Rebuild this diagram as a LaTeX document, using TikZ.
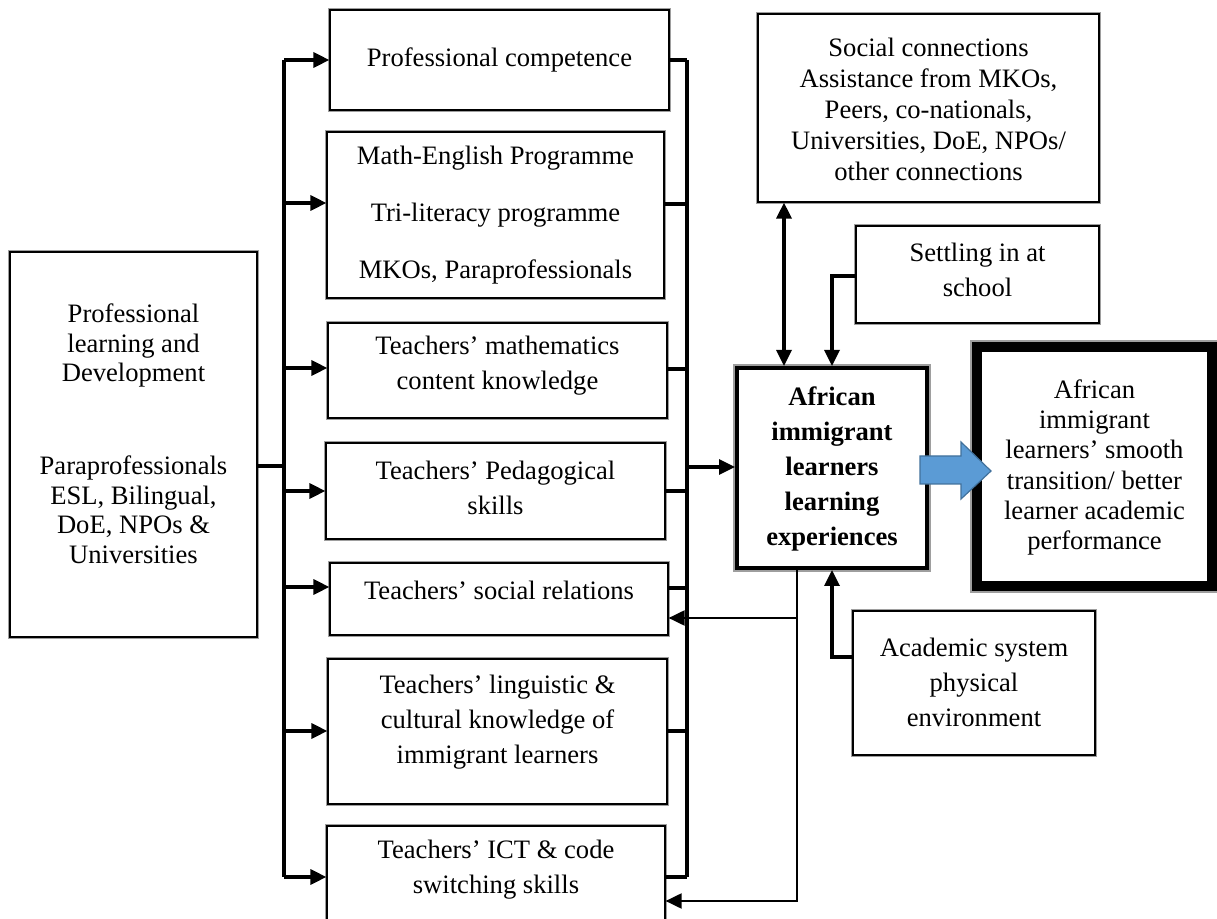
\documentclass[tikz,border=0pt]{standalone}
\usepackage{fontspec}
\setmainfont{Liberation Serif}
\usetikzlibrary{arrows.meta,fit,calc}
\definecolor{arrowblue}{HTML}{5B9BD5}
\definecolor{arrowedge}{HTML}{41719C}
\begin{document}
\begin{tikzpicture}[x=0.5pt,y=-0.5pt,
  bx/.style={draw=black, line width=0.6pt, preaction={draw=black!38, line width=2.2pt}, fill=white, inner sep=0pt},
  bxc/.style={draw=black, line width=2pt, preaction={draw=black!38, line width=3.8pt}, fill=white, inner sep=0pt},
  bxo/.style={draw=black, line width=5pt, preaction={draw=black!38, line width=6.8pt}, fill=white, inner sep=0pt},
  tx/.style={align=center, inner sep=0pt, font=\fontsize{13.3pt}{17.5pt}\selectfont},
  conn/.style={draw=black, line width=1.65pt},
  fbconn/.style={draw=black, line width=1pt},
  toarrow/.style={-{Triangle[length=8pt,width=7.5pt]}},
  botharrow/.style={{Triangle[length=8pt,width=7.5pt]}-{Triangle[length=8pt,width=7.5pt]}}]
\useasboundingbox (0,0) rectangle (1217,919);

% ---- boxes ----
\node[bx, fit={(10,252) (257,637)}] (L) {};
\node[bx, fit={(330,10) (669,110)}] (PC) {};
\node[bx, fit={(327,132) (664,298)}] (ME) {};
\node[bx, fit={(328,323) (667,418)}] (MC) {};
\node[bx, fit={(326,443) (665,539)}] (PS) {};
\node[bx, fit={(330,563) (668,635)}] (SR) {};
\node[bx, fit={(328,659) (667,804)}] (LC) {};
\node[bx, fit={(327,826) (665,940)}] (IC) {};
\node[bx, fit={(758,14) (1099,202)}] (S) {};
\node[bx, fit={(856,226) (1099,323)}] (T) {};
\node[bx, fit={(853,611) (1095,755)}] (A) {};
\node[bxc, fit={(737,368) (927,568)}] (C) {};
\node[bxo, fit={(977,347) (1212,586)}] (O) {};

% ---- texts ----
\node[tx, font=\fontsize{13.3pt}{14.75pt}\selectfont] (Lt) at (133.5,434)
  {Professional\\learning and\\Development\\[31.75pt]Paraprofessionals\\ESL, Bilingual,\\DoE, NPOs \&\\Universities};
\node[tx] (PCt) at (499.5,60) {Professional competence};
\node[tx, font=\fontsize{13.3pt}{28.5pt}\selectfont] (MEt) at (495.5,215)
  {Math-English Programme\\Tri-literacy programme\\MKOs, Paraprofessionals};
\node[tx] (MCt) at (497.5,366) {Teachers’ mathematics\\content knowledge};
\node[tx] (PSt) at (495.5,488) {Teachers’ Pedagogical\\skills};
\node[tx] (SRt) at (499,590) {Teachers’ social relations};
\node[tx] (LCt) at (497.5,722) {Teachers’ linguistic \&\\cultural knowledge of\\immigrant learners};
\node[tx] (ICt) at (496,870) {Teachers’ ICT \& code\\switching skills};
\node[tx, font=\fontsize{13.3pt}{15.5pt}\selectfont] (St) at (928.5,109)
  {Social connections\\Assistance from MKOs,\\Peers, co-nationals,\\Universities, DoE, NPOs/\\other connections};
\node[tx] (Tt) at (977.5,270) {Settling in at\\school};
\node[tx] (At) at (974,682) {Academic system\\physical\\environment};
\node[tx, font=\fontsize{13.3pt}{17.6pt}\selectfont\bfseries] (Ct) at (832,469)
  {African\\immigrant\\learners\\learning\\experiences};
\node[tx, font=\fontsize{13.3pt}{15.1pt}\selectfont] (Ot) at (1094.5,467.5)
  {African\\immigrant\\learners’ smooth\\transition/ better\\learner academic\\performance};

% ---- junction coordinates ----
\coordinate (l1) at (284,60);  \coordinate (r1) at (687,60);
\coordinate (l2) at (284,203); \coordinate (r2) at (687,204);
\coordinate (l3) at (284,368); \coordinate (r3) at (687,369);
\coordinate (l4) at (284,491); \coordinate (r4) at (687,491);
\coordinate (l5) at (284,587); \coordinate (r5) at (687,588);
\coordinate (l6) at (284,731); \coordinate (r6) at (687,731);
\coordinate (l7) at (284,877); \coordinate (r7) at (687,877);
\coordinate (lj) at (284,466); \coordinate (rj) at (687,467);
\coordinate (sx) at (784,300);
\coordinate (st) at (832,276);
\coordinate (ac) at (832,657);
\coordinate (fb1) at (797,618);
\coordinate (fb2) at (797,901);

% ---- trunks ----
\draw[conn] (l1) -- (l7);
\draw[conn] (r1) -- (r7);
\draw[conn] (L.east |- lj) -- (lj);
\draw[conn, toarrow] (l1) -- (PC.west |- l1);
\draw[conn, toarrow] (l2) -- (ME.west |- l2);
\draw[conn, toarrow] (l3) -- (MC.west |- l3);
\draw[conn, toarrow] (l4) -- (PS.west |- l4);
\draw[conn, toarrow] (l5) -- (SR.west |- l5);
\draw[conn, toarrow] (l6) -- (LC.west |- l6);
\draw[conn, toarrow] (l7) -- (IC.west |- l7);
\draw[conn] (PC.east |- r1) -- (r1);
\draw[conn] (ME.east |- r2) -- (r2);
\draw[conn] (MC.east |- r3) -- (r3);
\draw[conn] (PS.east |- r4) -- (r4);
\draw[conn] (SR.east |- r5) -- (r5);
\draw[conn] (LC.east |- r6) -- (r6);
\draw[conn] (IC.east |- r7) -- (r7);
\draw[conn, toarrow] (rj) -- (C.west |- rj);

% ---- right side connectors ----
\draw[conn, botharrow] (S.south -| sx) -- (C.north -| sx);
\draw[conn, toarrow] (T.west |- st) -- (st) -- (C.north -| st);
\draw[conn, toarrow] (A.west |- ac) -- (ac) -- (C.south -| ac);
\draw[fbconn, toarrow] (C.south -| fb1) -- (fb1) -- (SR.east |- fb1);
\draw[fbconn, toarrow] (fb1) -- (fb2) -- (IC.east |- fb2);

% ---- block arrow ----
\draw[fill=arrowblue, draw=arrowedge, line width=0.6pt, line join=miter]
  (920,456) -- (961,456) -- (961,442) -- (991,471) -- (961,499) -- (961,484) -- (920,484) -- cycle;
\end{tikzpicture}
\end{document}
